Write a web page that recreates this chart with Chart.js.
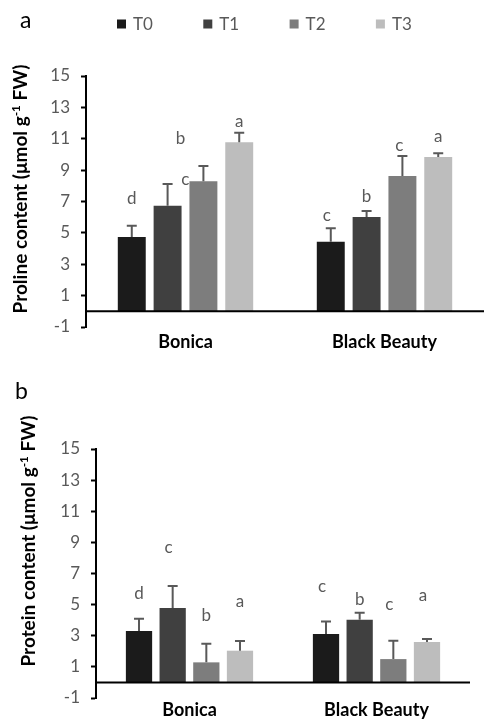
<!DOCTYPE html>
<html><head><meta charset="utf-8">
<script src="https://cdn.jsdelivr.net/npm/chart.js@4.4.1/dist/chart.umd.min.js"></script>
<style>
html,body{margin:0;padding:0;background:#fff;width:484px;height:721px;overflow:hidden;}
.panel{position:absolute;left:0;width:484px;}
#p1{top:0;height:360px;}
#p2{top:360px;height:361px;}
.lab{position:absolute;font-family:Lato,sans-serif;font-size:23px;color:#000;line-height:1;}
.yt{position:absolute;transform:translate(-50%,-50%) rotate(-90deg);white-space:nowrap;font-family:Lato,sans-serif;font-weight:bold;font-size:19px;color:#000;line-height:1;}
.yt sup{font-size:0.62em;vertical-align:0.55em;line-height:0;}
</style></head>
<body>
<div class="panel" id="p1"><canvas id="c1" width="484" height="360"></canvas></div>
<div class="panel" id="p2"><canvas id="c2" width="484" height="361"></canvas></div>
<div class="lab" style="left:20px;top:8px">a</div>
<div class="lab" style="left:15px;top:379px">b</div>
<div class="yt" style="left:19px;top:189px">Proline content (&mu;mol g<sup>-1</sup> FW)</div>
<div class="yt" style="left:27px;top:541px">Protein content (&mu;mol g<sup>-1</sup> FW)</div>
<script>
// ---------- data ----------
const categories = ['Bonica', 'Black Beauty'];
const treatments = ['T0', 'T1', 'T2', 'T3'];
const yTicks = [-1, 1, 3, 5, 7, 9, 11, 13, 15];

// Proline content
const prolineT0 = [4.74, 4.44];
const prolineT1 = [6.73, 6.01];
const prolineT2 = [8.29, 8.62];
const prolineT3 = [10.77, 9.83];
const prolineErrT0 = [0.72, 0.85];
const prolineErrT1 = [1.38, 0.38];
const prolineErrT2 = [0.97, 1.28];
const prolineErrT3 = [0.61, 0.24];
const prolineLetT0 = ['d', 'c'];
const prolineLetT1 = ['b', 'b'];
const prolineLetT2 = ['c', 'c'];
const prolineLetT3 = ['a', 'a'];
// letter anchor heights (value units) and horizontal nudges (px)
const prolineLetYT0 = [6.82, 5.76];
const prolineLetYT1 = [10.64, 6.97];
const prolineLetYT2 = [8.05, 10.22];
const prolineLetYT3 = [11.73, 10.79];
const prolineLetDxT0 = [0, -4];
const prolineLetDxT1 = [13, 0];
const prolineLetDxT2 = [-18, -3];
const prolineLetDxT3 = [0, 0];

// Protein content
const proteinT0 = [3.30, 3.11];
const proteinT1 = [4.78, 4.03];
const proteinT2 = [1.29, 1.50];
const proteinT3 = [2.04, 2.60];
const proteinErrT0 = [0.79, 0.81];
const proteinErrT1 = [1.42, 0.45];
const proteinErrT2 = [1.20, 1.18];
const proteinErrT3 = [0.62, 0.19];
const proteinLetT0 = ['d', 'c'];
const proteinLetT1 = ['c', 'b'];
const proteinLetT2 = ['b', 'c'];
const proteinLetT3 = ['a', 'a'];
const proteinLetYT0 = [5.36, 5.83];
const proteinLetYT1 = [8.32, 4.99];
const proteinLetYT2 = [3.97, 4.63];
const proteinLetYT3 = [4.85, 5.23];
const proteinLetDxT0 = [0, -4];
const proteinLetDxT1 = [-4, 0];
const proteinLetDxT2 = [0, -4];
const proteinLetDxT3 = [0, -4];

// ---------- styles ----------
const barColors = ['#1b1b1b', '#404040', '#7d7d7d', '#bdbdbd'];
const FONT = 'Lato, "Open Sans", sans-serif';
const GREY = '#595959';

const errPlugin = {
  id: 'errLetters',
  afterDatasetsDraw(chart) {
    const ctx = chart.ctx;
    const ys = chart.scales.y;
    ctx.save();
    const y0 = ys.getPixelForValue(0);
    ctx.strokeStyle = '#000';
    ctx.lineWidth = 2;
    ctx.beginPath();
    ctx.moveTo(chart.chartArea.left, y0);
    ctx.lineTo(chart.chartArea.right, y0);
    ctx.stroke();
    chart.data.datasets.forEach((ds, di) => {
      const meta = chart.getDatasetMeta(di);
      meta.data.forEach((bar, i) => {
        const v = ds.data[i];
        const top = ys.getPixelForValue(v);
        const et = ys.getPixelForValue(v + ds.err[i]);
        ctx.strokeStyle = GREY;
        ctx.lineWidth = 2;
        ctx.beginPath();
        ctx.moveTo(bar.x, top);
        ctx.lineTo(bar.x, et);
        ctx.moveTo(bar.x - 5, et);
        ctx.lineTo(bar.x + 5, et);
        ctx.stroke();
        ctx.fillStyle = GREY;
        ctx.font = '17px ' + FONT;
        ctx.textAlign = 'center';
        ctx.textBaseline = 'alphabetic';
        ctx.fillText(ds.letters[i], bar.x + ds.letterDx[i], ys.getPixelForValue(ds.letterY[i]));
      });
    });
    ctx.restore();
  }
};

const legendPlugin = {
  id: 'topLegend',
  afterDraw(chart, args, opts) {
    if (!opts.show) return;
    const ctx = chart.ctx;
    ctx.save();
    chart.data.datasets.forEach((ds, i) => {
      const x = opts.x0 + i * opts.step;
      ctx.fillStyle = ds.backgroundColor;
      ctx.fillRect(x, opts.y - 4.5, 9, 9);
      ctx.fillStyle = GREY;
      ctx.font = '17px ' + FONT;
      ctx.textAlign = 'left';
      ctx.textBaseline = 'middle';
      ctx.fillText(ds.label, x + 16, opts.y + 0.5);
    });
    ctx.restore();
  }
};

function buildDatasets(vals, errs, lets, letY, letDx) {
  return treatments.map((t, k) => ({
    label: t,
    data: vals[k],
    err: errs[k],
    letters: lets[k],
    letterY: letY[k],
    letterDx: letDx[k],
    backgroundColor: barColors[k],
    borderWidth: 0,
    categoryPercentage: 0.72,
    barPercentage: 0.78
  }));
}

function makeChart(id, datasets, cfg) {
  return new Chart(document.getElementById(id), {
    type: 'bar',
    data: { labels: categories, datasets },
    plugins: [errPlugin, legendPlugin],
    options: {
      responsive: false,
      animation: false,
      layout: { padding: { top: cfg.top, right: cfg.right, left: 0, bottom: 0 } },
      plugins: {
        legend: { display: false },
        tooltip: { enabled: false },
        topLegend: cfg.legend
      },
      scales: {
        x: {
          type: 'category',
          grid: { display: false, drawTicks: false },
          border: { display: false },
          ticks: { color: '#000', font: { family: FONT, size: 18, weight: 'bold' }, padding: cfg.xPad, maxRotation: 0 },
          afterFit: s => { s.height = cfg.xH; }
        },
        y: {
          min: -1, max: 15,
          afterBuildTicks: s => { s.ticks = yTicks.map(v => ({ value: v })); },
          afterFit: s => { s.width = cfg.yW; },
          border: { display: true, color: '#000', width: 2 },
          grid: { drawOnChartArea: false, drawTicks: true, tickLength: 5, tickColor: '#000', tickWidth: 2 },
          ticks: { color: GREY, font: { family: FONT, size: 17 }, padding: 11 },
          title: { display: false }
        }
      }
    }
  });
}

makeChart('c1',
  buildDatasets([prolineT0, prolineT1, prolineT2, prolineT3],
                [prolineErrT0, prolineErrT1, prolineErrT2, prolineErrT3],
                [prolineLetT0, prolineLetT1, prolineLetT2, prolineLetT3],
                [prolineLetYT0, prolineLetYT1, prolineLetYT2, prolineLetYT3],
                [prolineLetDxT0, prolineLetDxT1, prolineLetDxT2, prolineLetDxT3]),
  { top: 76, right: -6, yW: 86, xH: 33, xPad: 4, legend: { show: true, x0: 117, step: 86.3, y: 24 } });

makeChart('c2',
  buildDatasets([proteinT0, proteinT1, proteinT2, proteinT3],
                [proteinErrT0, proteinErrT1, proteinErrT2, proteinErrT3],
                [proteinLetT0, proteinLetT1, proteinLetT2, proteinLetT3],
                [proteinLetYT0, proteinLetYT1, proteinLetYT2, proteinLetYT3],
                [proteinLetDxT0, proteinLetDxT1, proteinLetDxT2, proteinLetDxT3]),
  { top: 89, right: 14, yW: 96, xH: 23, xPad: 1, legend: { show: false } });
</script>
</body></html>
